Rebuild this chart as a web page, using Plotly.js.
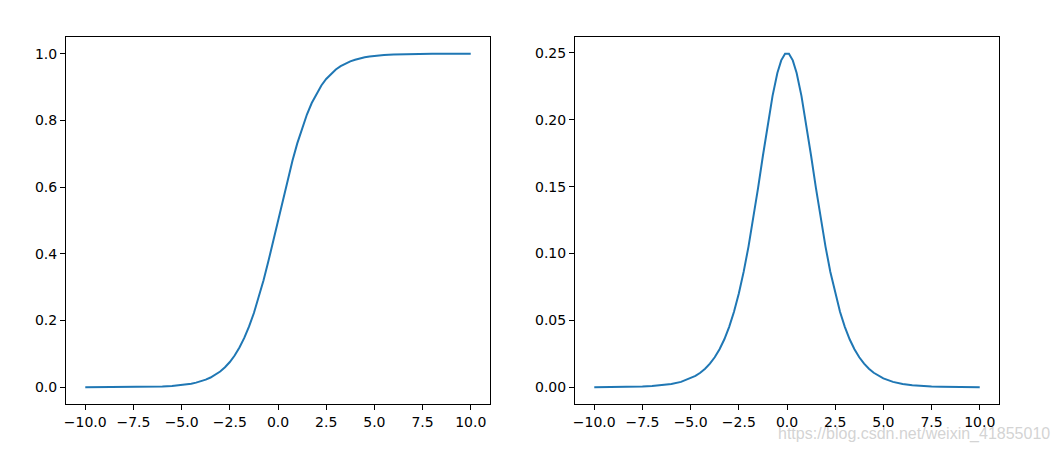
<!DOCTYPE html>
<html><head><meta charset="utf-8">
<script src="https://cdn.plot.ly/plotly-3.0.1.min.js"></script>
<style>body{margin:0}#c{width:1061px;height:452px}</style>
</head><body><div id="c"></div>
<script>
const xs = [-10,-9.5,-9,-8.5,-8,-7.5,-7,-6.5,-6,-5.5,-5,-4.75,-4.5,-4.25,-4,-3.75,-3.5,-3.25,-3,-2.75,-2.5,-2.25,-2,-1.75,-1.5,-1.25,-1,-0.75,-0.5,-0.25,0,0.25,0.5,0.75,1,1.25,1.5,1.75,2,2.25,2.5,2.75,3,3.25,3.5,3.75,4,4.25,4.5,4.75,5,5.5,6,6.5,7,7.5,8,8.5,9,9.5,10];
const sigmoidVals = [0.0000454,0.0000749,0.000123,0.000203,0.000335,0.000553,0.000911,0.0015,0.00247,0.00407,0.00669,0.008577,0.0110,0.01406,0.0180,0.02298,0.0293,0.03732,0.0474,0.06009,0.0759,0.09535,0.1192,0.1480,0.1824,0.2227,0.2689,0.3208,0.3775,0.4378,0.5,0.5622,0.6225,0.6792,0.7311,0.7773,0.8176,0.8520,0.8808,0.90465,0.9241,0.93991,0.9526,0.96268,0.9707,0.97702,0.9820,0.98594,0.9890,0.991423,0.99331,0.99593,0.99753,0.9985,0.999089,0.999447,0.999665,0.999797,0.999877,0.9999251,0.9999546];
const xd = [-10,-9.5,-9,-8.5,-8,-7.5,-7,-6.5,-6,-5.5,-5,-4.75,-4.5,-4.25,-4,-3.75,-3.5,-3.25,-3,-2.75,-2.5,-2.25,-2,-1.75,-1.5,-1.25,-1,-0.75,-0.5,-0.3,-0.1,0.1,0.3,0.5,0.75,1,1.25,1.5,1.75,2,2.25,2.5,2.75,3,3.25,3.5,3.75,4,4.25,4.5,4.75,5,5.5,6,6.5,7,7.5,8,8.5,9,9.5,10];
const derivVals = [0.0000454,0.0000749,0.000123,0.000203,0.000335,0.000553,0.000911,0.0015,0.00247,0.00405,0.00665,0.008503,0.0109,0.01386,0.0177,0.02245,0.0285,0.03593,0.0452,0.05648,0.0701,0.08626,0.1050,0.1261,0.1491,0.1731,0.1966,0.2179,0.2350,0.2444,0.2494,0.2494,0.2444,0.2350,0.2179,0.1966,0.1731,0.1491,0.1261,0.1050,0.08626,0.0701,0.05648,0.0452,0.03593,0.0285,0.02245,0.0177,0.01386,0.0109,0.008503,0.00665,0.00405,0.00247,0.0015,0.000911,0.000553,0.000335,0.000203,0.000123,0.0000749,0.0000454];
const xTicks = [-10,-7.5,-5,-2.5,0,2.5,5,7.5,10];
const xTickText = ['−10.0','−7.5','−5.0','−2.5','0.0','2.5','5.0','7.5','10.0'];
const y1Ticks = [0,0.2,0.4,0.6,0.8,1.0];
const y1TickText = ['0.0','0.2','0.4','0.6','0.8','1.0'];
const y2Ticks = [0,0.05,0.1,0.15,0.2,0.25];
const y2TickText = ['0.00','0.05','0.10','0.15','0.20','0.25'];

const col = '#1f77b4';
const traces = [
  {x: xs, y: sigmoidVals, type:'scatter', mode:'lines', line:{color:col, width:2}, xaxis:'x', yaxis:'y'},
  {x: xd, y: derivVals, type:'scatter', mode:'lines', line:{color:col, width:2}, xaxis:'x2', yaxis:'y2'}
];
const ax = {showgrid:false, zeroline:false, showline:true, mirror:true, linecolor:'#000', linewidth:1,
  ticks:'outside', ticklen:5, tickwidth:1, tickcolor:'#000', tickfont:{family:'DejaVu Sans', size:14, color:'#000'}};
const layout = {
  width:1061, height:452, margin:{l:0,r:0,t:0,b:0}, showlegend:false,
  paper_bgcolor:'#fff', plot_bgcolor:'#fff',
  xaxis: Object.assign({}, ax, {domain:[66/1061, 490/1061], range:[-11,11], tickvals:xTicks, ticktext:xTickText, anchor:'y'}),
  yaxis: Object.assign({}, ax, {domain:[1-404/452, 1-37/452], range:[-0.05,1.05], tickvals:y1Ticks, ticktext:y1TickText, anchor:'x'}),
  xaxis2: Object.assign({}, ax, {domain:[575/1061, 999/1061], range:[-11,11], tickvals:xTicks, ticktext:xTickText, anchor:'y2'}),
  yaxis2: Object.assign({}, ax, {domain:[1-404/452, 1-37/452], range:[-0.01247,0.26187], tickvals:y2Ticks, ticktext:y2TickText, anchor:'x2'}),
  annotations:[{text:'https://blog.csdn.net/weixin_41855010', xref:'paper', yref:'paper', x:1052/1061, y:1-434/452,
    xanchor:'right', yanchor:'middle', showarrow:false, font:{family:'Liberation Sans', size:16, color:'rgba(200,200,200,0.8)'}}]
};
Plotly.newPlot('c', traces, layout, {staticPlot:true});
</script></body></html>
